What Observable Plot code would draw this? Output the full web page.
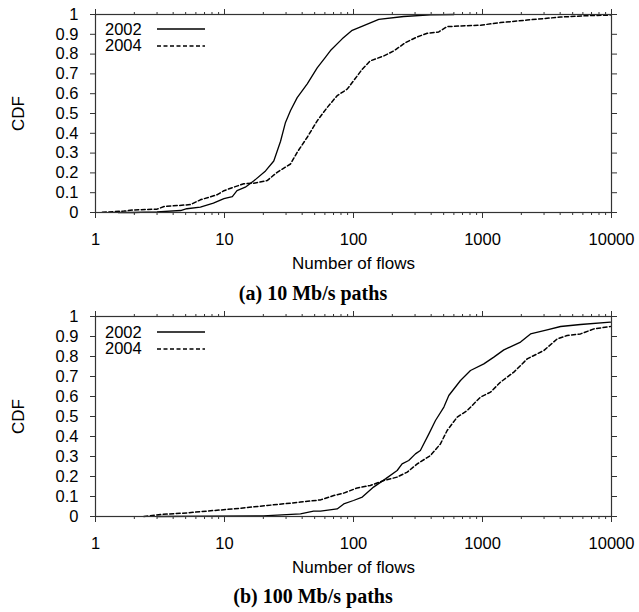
<!DOCTYPE html>
<html><head><meta charset="utf-8">
<script src="https://cdn.jsdelivr.net/npm/d3@7"></script>
<script src="https://cdn.jsdelivr.net/npm/@observablehq/plot@0.6"></script>
<style>
body{margin:0;background:#fff;width:639px;height:612px;position:relative;overflow:hidden;font-family:"Liberation Sans",Arial,sans-serif;color:#000;}
.panel{position:absolute;left:0;}
.caption{position:absolute;left:0;width:626px;text-align:center;font-family:"Liberation Serif","Times New Roman",serif;font-weight:bold;font-size:20px;line-height:24px;}
.lgtext{position:absolute;left:105px;font-size:16.5px;line-height:19px;}
.lgline{position:absolute;left:157px;width:48px;height:6px;}
</style></head><body>
<script>
// ----- data -----
const years = ["2002", "2004"];
const xTicks = [1, 10, 100, 1000, 10000];
const xTickLabels = ["1", "10", "100", "1000", "10000"];
const yTicks = [0, 0.1, 0.2, 0.3, 0.4, 0.5, 0.6, 0.7, 0.8, 0.9, 1];
const yTickLabels = ["0", "0.1", "0.2", "0.3", "0.4", "0.5", "0.6", "0.7", "0.8", "0.9", "1"];
const captions = ["(a) 10 Mb/s paths", "(b) 100 Mb/s paths"];
const xLabel = "Number of flows";
const yLabel = "CDF";

// (a) 10 Mb/s paths
const a2002Flows = [1.5, 1.97, 3.0, 4.57, 5.1, 6.5, 8.2, 9.9, 11.5, 12.5, 14.5, 16.9, 20.8, 24.1, 27.2, 29.7, 32.5, 36.6, 43.8, 52.3, 60.7, 66.3, 81.7, 97.7, 120, 157, 245, 395, 600];
const a2002Cdf   = [0, 0, 0.003, 0.01, 0.019, 0.027, 0.047, 0.07, 0.08, 0.11, 0.128, 0.16, 0.21, 0.26, 0.36, 0.455, 0.515, 0.58, 0.65, 0.73, 0.785, 0.818, 0.877, 0.92, 0.944, 0.975, 0.99, 0.998, 1.0];
const a2004Flows = [1.13, 1.66, 1.98, 3.0, 3.4, 5.45, 6.5, 8.8, 9.9, 11.8, 14.1, 16.9, 21.4, 25.6, 32.5, 36.6, 43.8, 52.3, 62.5, 74.7, 89.3, 100, 117, 135, 172, 205, 253, 312, 373, 458, 532, 965, 1380, 2220, 4030, 6480, 9800];
const a2004Cdf   = [0.001, 0.007, 0.013, 0.017, 0.03, 0.04, 0.064, 0.09, 0.11, 0.128, 0.145, 0.148, 0.161, 0.203, 0.245, 0.304, 0.38, 0.463, 0.53, 0.59, 0.623, 0.665, 0.724, 0.766, 0.791, 0.816, 0.858, 0.887, 0.905, 0.912, 0.939, 0.946, 0.959, 0.972, 0.987, 0.994, 0.997];

// (b) 100 Mb/s paths
const b2002Flows = [3, 20, 38.8, 49, 55.5, 74.7, 84, 100, 117, 143, 177, 218, 238, 268, 302, 330, 384, 432, 502, 548, 675, 807, 1024, 1224, 1464, 1972, 2356, 3170, 4030, 5750, 9800];
const b2002Cdf   = [0, 0.003, 0.013, 0.027, 0.027, 0.038, 0.063, 0.08, 0.097, 0.147, 0.188, 0.23, 0.263, 0.28, 0.313, 0.33, 0.413, 0.48, 0.547, 0.605, 0.68, 0.73, 0.763, 0.797, 0.833, 0.872, 0.913, 0.933, 0.95, 0.96, 0.972];
const b2004Flows = [2.37, 3.19, 5.1, 8.27, 11.8, 21.4, 38.8, 55.5, 70.3, 84, 107, 135, 172, 218, 261, 312, 395, 472, 532, 637, 762, 965, 1154, 1380, 1750, 2220, 2990, 3790, 4530, 5750, 7300, 9800];
const b2004Cdf   = [0, 0.01, 0.018, 0.03, 0.038, 0.055, 0.072, 0.083, 0.105, 0.117, 0.143, 0.155, 0.18, 0.197, 0.222, 0.263, 0.305, 0.363, 0.43, 0.497, 0.53, 0.597, 0.622, 0.672, 0.722, 0.788, 0.83, 0.888, 0.905, 0.913, 0.938, 0.95];

// ----- drawing -----
const toRows = (flows, cdf) => flows.map((f, i) => ({flows: f, cdf: cdf[i]}));
const minorTicks = [];
for (const d of [1, 10, 100, 1000]) for (let k = 2; k <= 9; k++) minorTicks.push(d * k);
const ink = "#333";

function panel(rows2002, rows2004, height, mTop, mBottom) {
  return Plot.plot({
    width: 639, height,
    marginLeft: 95, marginRight: 28, marginTop: mTop, marginBottom: mBottom,
    style: {fontFamily: "'Liberation Sans', Arial, sans-serif", fontSize: "16.5px", color: "#000", background: "transparent", overflow: "visible"},
    x: {type: "log", domain: [1, 10000]},
    y: {domain: [0, 1]},
    marks: [
      Plot.axisX({anchor: "bottom", ticks: xTicks, tickSize: 6, tickPadding: 15, stroke: ink, label: null,
        tickFormat: d => xTickLabels[xTicks.indexOf(d)]}),
      Plot.axisX({anchor: "bottom", ticks: minorTicks, tickSize: 3, stroke: ink, label: null, tickFormat: () => ""}),
      Plot.axisX({anchor: "top", ticks: xTicks, tickSize: 6, stroke: ink, label: null, tickFormat: () => ""}),
      Plot.axisX({anchor: "top", ticks: minorTicks, tickSize: 3, stroke: ink, label: null, tickFormat: () => ""}),
      Plot.axisY({anchor: "left", ticks: yTicks, tickSize: 5, tickPadding: 12, stroke: ink, label: null,
        tickFormat: d => yTickLabels[yTicks.findIndex(t => Math.abs(t - d) < 1e-9)]}),
      Plot.axisY({anchor: "right", ticks: yTicks, tickSize: 5, stroke: ink, label: null, tickFormat: () => ""}),
      Plot.line(rows2002, {x: "flows", y: "cdf", stroke: "#000", strokeWidth: 1.3}),
      Plot.line(rows2004, {x: "flows", y: "cdf", stroke: "#000", strokeWidth: 1.5, strokeDasharray: "4,2.5"}),
      Plot.frame({stroke: ink, strokeWidth: 1.2}),
      Plot.text([xLabel], {frameAnchor: "bottom", dy: 51, text: d => d, lineAnchor: "middle", fontSize: 17}),
      Plot.text([yLabel], {frameAnchor: "left", dx: -77, text: d => d, rotate: -90, lineAnchor: "middle", textAnchor: "middle", fontSize: 17})
    ]
  });
}

function addPanel(top, chart, captionText, captionTop, legendTop) {
  const wrap = document.createElement("div");
  wrap.className = "panel";
  wrap.style.top = top + "px";
  wrap.appendChild(chart);
  document.body.appendChild(wrap);
  const cap = document.createElement("div");
  cap.className = "caption";
  cap.style.top = (captionTop - 12) + "px";
  cap.textContent = captionText;
  document.body.appendChild(cap);
  years.forEach((yr, i) => {
    const cy = legendTop + i * 16.8;
    const t = document.createElement("div");
    t.className = "lgtext";
    t.style.top = (cy - 9.5) + "px";
    t.textContent = yr;
    document.body.appendChild(t);
    const svg = document.createElementNS("http://www.w3.org/2000/svg", "svg");
    svg.setAttribute("class", "lgline");
    svg.style.top = (cy - 3) + "px";
    const ln = document.createElementNS("http://www.w3.org/2000/svg", "line");
    ln.setAttribute("x1", 0); ln.setAttribute("x2", 48);
    ln.setAttribute("y1", 3); ln.setAttribute("y2", 3);
    ln.setAttribute("stroke", "#000");
    ln.setAttribute("stroke-width", i === 0 ? 1.3 : 1.5);
    if (i === 1) ln.setAttribute("stroke-dasharray", "4,2.5");
    svg.appendChild(ln);
    document.body.appendChild(svg);
  });
}

addPanel(0, panel(toRows(a2002Flows, a2002Cdf), toRows(a2004Flows, a2004Cdf), 275, 14, 63), captions[0], 293, 29);
addPanel(302, panel(toRows(b2002Flows, b2002Cdf), toRows(b2004Flows, b2004Cdf), 275, 14, 61), captions[1], 596, 332);
</script>
</body></html>
